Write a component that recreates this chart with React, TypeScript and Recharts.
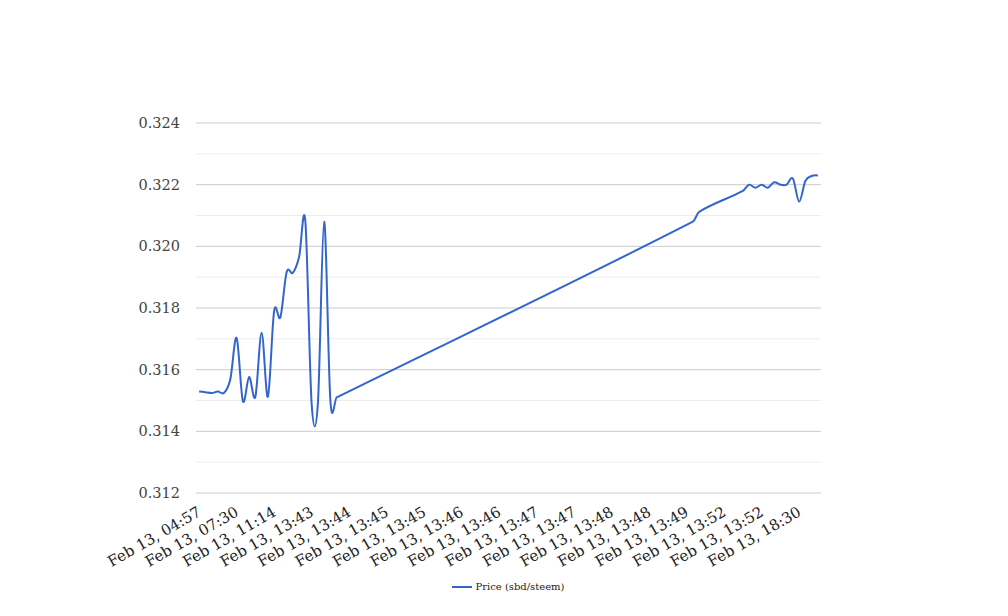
import React from "react";
import { CartesianGrid, Legend, Line, LineChart, ReferenceLine, XAxis, YAxis } from "recharts";

// category slots on the x axis (0..99), only the labelled ones listed
const tickSlots = [0, 6, 12, 18, 24, 30, 36, 42, 48, 54, 60, 66, 72, 78, 84, 90, 96];
const tickLabels = [
  "Feb 13, 04:57",
  "Feb 13, 07:30",
  "Feb 13, 11:14",
  "Feb 13, 13:43",
  "Feb 13, 13:44",
  "Feb 13, 13:45",
  "Feb 13, 13:45",
  "Feb 13, 13:46",
  "Feb 13, 13:46",
  "Feb 13, 13:47",
  "Feb 13, 13:47",
  "Feb 13, 13:48",
  "Feb 13, 13:48",
  "Feb 13, 13:49",
  "Feb 13, 13:52",
  "Feb 13, 13:52",
  "Feb 13, 18:30",
];

// slots that carry a price (the empty ones in between get bridged)
const priceSlots = [
  0, 1, 2, 3, 4, 5, 6, 7, 8, 9, 10, 11, 12, 13, 14, 15, 16, 17, 18, 19, 20, 21, 22,
  79, 80,
  87, 88, 89, 90, 91, 92, 93, 94, 95, 96, 97, 98, 99,
];
const prices = [
  0.31529, 0.31527, 0.31524, 0.31529, 0.31525, 0.3157, 0.31703, 0.31498, 0.31576, 0.31512,
  0.3172, 0.31512, 0.3179, 0.3177, 0.31916, 0.31914, 0.31966, 0.3208, 0.3149, 0.3149,
  0.3208, 0.315, 0.3151,
  0.3208, 0.32112,
  0.3218, 0.322, 0.3219, 0.322, 0.3219, 0.32208, 0.322, 0.322, 0.3222, 0.32145, 0.32212,
  0.32228, 0.3223,
];

const majorTicks = [0.312, 0.314, 0.316, 0.318, 0.32, 0.322, 0.324];
const minorTicks = [0.313, 0.315, 0.317, 0.319, 0.321, 0.323];

const data = priceSlots.map((slot, i) => ({ slot, price: prices[i] }));

const FONT = "'DejaVu Serif', serif";
const BLUE = "#3366cc";

// smooth curve through the points; control arms weighted by horizontal spacing
const smoothCurve = (context: any) => {
  let pts: number[][] = [];
  const t = 1 / 3;
  return {
    areaStart() {},
    areaEnd() {},
    lineStart() {
      pts = [];
    },
    point(x: number, y: number) {
      pts.push([+x, +y]);
    },
    lineEnd() {
      const n = pts.length;
      if (!n) return;
      context.moveTo(pts[0][0], pts[0][1]);
      const cin: number[][] = [];
      const cout: number[][] = [];
      for (let i = 0; i < n; i++) {
        if (i === 0 || i === n - 1) {
          cin.push(pts[i]);
          cout.push(pts[i]);
          continue;
        }
        const [x0, y0] = pts[i - 1];
        const [x1, y1] = pts[i];
        const [x2, y2] = pts[i + 1];
        const d01 = Math.abs(x1 - x0);
        const d12 = Math.abs(x2 - x1);
        const s = d01 + d12 || 1;
        const fa = (t * d01) / s;
        const fb = (t * d12) / s;
        cin.push([x1 - fa * (x2 - x0), y1 - fa * (y2 - y0)]);
        cout.push([x1 + fb * (x2 - x0), y1 + fb * (y2 - y0)]);
      }
      for (let i = 1; i < n; i++) {
        context.bezierCurveTo(cout[i - 1][0], cout[i - 1][1], cin[i][0], cin[i][1], pts[i][0], pts[i][1]);
      }
    },
  };
};

function SlantTick(props: any) {
  const { x, payload } = props;
  const idx = tickSlots.indexOf(payload.value);
  const ax = x + 3;
  const ay = 515;
  return (
    <text
      x={ax}
      y={ay}
      transform={`rotate(-30, ${ax}, ${ay})`}
      textAnchor="end"
      fontFamily={FONT}
      fontSize={15}
      fill="#222"
    >
      {tickLabels[idx]}
    </text>
  );
}

function LegendBox() {
  return (
    <div style={{ display: "flex", justifyContent: "center", alignItems: "center", fontFamily: FONT, paddingLeft: 8 }}>
      <svg width={24} height={10}>
        <line x1={0} y1={5} x2={20} y2={5} stroke={BLUE} strokeWidth={2} />
      </svg>
      <span style={{ fontSize: 10, color: "#222" }}>Price (sbd/steem)</span>
    </div>
  );
}

export default function App() {
  return (
    <div style={{ width: 1008, height: 616, background: "#fff" }}>
      <style>{`body{margin:0}`}</style>
      <LineChart width={1008} height={616} data={data} margin={{ top: 123, right: 187, left: 136, bottom: 63 }}>
        <CartesianGrid vertical={false} stroke="#cccccc" />
        {minorTicks.map((v) => (
          <ReferenceLine key={v} y={v} stroke="#ebebeb" />
        ))}
        <XAxis
          type="number"
          dataKey="slot"
          domain={[-0.5, 99.5]}
          ticks={tickSlots}
          interval={0}
          axisLine={false}
          tickLine={false}
          height={60}
          tick={<SlantTick />}
        />
        <YAxis
          type="number"
          domain={[0.312, 0.324]}
          ticks={majorTicks}
          tickFormatter={(v: number) => v.toFixed(3)}
          axisLine={false}
          tickLine={false}
          tickMargin={10}
          width={60}
          tick={{ fontFamily: FONT, fontSize: 14.5, fill: "#444" }}
        />
        <Legend
          layout="horizontal"
          verticalAlign="middle"
          align="center"
          wrapperStyle={{ top: 581, left: 0, width: 1008 }}
          content={<LegendBox />}
        />
        <Line
          type={smoothCurve as any}
          dataKey="price"
          name="Price (sbd/steem)"
          stroke={BLUE}
          strokeWidth={2}
          dot={false}
          activeDot={false}
          isAnimationActive={false}
        />
      </LineChart>
    </div>
  );
}
